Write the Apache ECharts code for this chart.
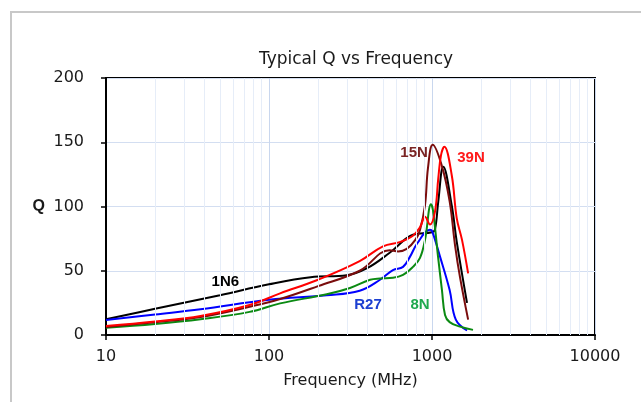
<!DOCTYPE html>
<html><head><meta charset="utf-8">
<script src="https://cdn.jsdelivr.net/npm/echarts@6/dist/echarts.min.js"></script>
<style>html,body{margin:0;padding:0;background:#fff}#c{width:641px;height:402px}</style>
</head><body><div id="c"></div>
<script>
// Frequency (MHz), Q pairs
const q1N6 = [[10,12.2],[20,20.4],[50,31],[100,39.5],[180,45],[300,46.5],[400,52],[550,64],[764,78],[1000,80],[1043,82],[1093,104],[1173,131],[1321,101],[1418,72.6],[1640,25]];
const q15N = [[10,6.3],[20,10],[38,14],[76,22],[117,28],[200,38],[360,50],[550,66],[620,65],[700,67],[790,74],[845,82],[906,101],[945,130],[1010,148],[1147,132],[1283,104],[1384,70],[1485,45],[1666,12]];
const q39N = [[10,7],[20,10.5],[38,14.8],[76,23.3],[117,32.4],[200,43],[360,57.5],[500,69],[640,72.5],[760,77],[845,84],[906,92],[972,86],[1043,96],[1093,122],[1136,140],[1190,146.5],[1321,124.5],[1418,91],[1528,74],[1666,48]];
const qR27 = [[10,11.7],[20,16],[38,20],[100,27.5],[226,31],[360,34.5],[480,43],[576,50.5],[664,53],[733,61],[809,71],[972,82],[1000,81],[1120,61],[1283,35],[1400,12],[1640,3.5]];
const q8N = [[10,5.7],[20,8.5],[38,12.2],[76,18],[117,24.6],[226,31.7],[314,36.6],[417,43],[480,44],[576,44.5],[664,46.7],[764,53],[844,60],[906,74],[986,101.7],[1014,97],[1089,61],[1151,35],[1202,15.6],[1283,10],[1485,6.5],[1785,4]];
const xTicks = [10,100,1000,10000];
const yTicks = [0,50,100,150,200];
const minorX = [20,30,40,50,60,70,80,90,200,300,400,500,600,700,800,900,2000,3000,4000,5000,6000,7000,8000,9000];

const FONT = 'DejaVu Sans, sans-serif';
const BFONT = 'Liberation Sans, Arial, sans-serif';
function lineSeries(name, data, color, labelAt, labelColor){
  return {
    name, type:'line', data, smooth:0.4, symbol:'none', z:3,
    lineStyle:{color, width:2},
    markPoint:{
      silent:true, symbol:'circle', symbolSize:0,
      data:[{coord:labelAt, value:name}],
      label:{show:true, position:'inside', formatter:name, color:labelColor,
        fontFamily:BFONT, fontSize:15, fontWeight:'bold'}
    }
  };
}
const chart = echarts.init(document.getElementById('c'), null, {renderer:'canvas'});
chart.setOption({
  animation:false,
  backgroundColor:'#fff',
  title:{text:'Typical Q vs Frequency', left:351, top:46, textAlign:'center',
    textStyle:{fontFamily:FONT, fontSize:17, fontWeight:'normal', color:'#1a1a1a'}},
  graphic:[{type:'rect', shape:{x:11, y:12, width:700, height:500}, silent:true,
    style:{fill:'none', stroke:'#c8c8c8', lineWidth:2}, z:-10}],
  grid:{left:106, top:78, right:46, bottom:67, show:true, borderColor:'#000', borderWidth:2, backgroundColor:'transparent'},
  xAxis:{type:'log', logBase:10, min:10, max:10000,
    name:'Frequency (MHz)', nameLocation:'middle', nameGap:38,
    nameTextStyle:{fontFamily:FONT, fontSize:16, color:'#1a1a1a'},
    axisLine:{lineStyle:{color:'#000', width:2}},
    axisTick:{show:true, inside:false, length:5, lineStyle:{color:'#000', width:1.5}},
    axisLabel:{fontFamily:FONT, fontSize:16, color:'#1a1a1a', margin:14,
      formatter:v=>String(Math.round(v))},
    splitLine:{show:true, lineStyle:{color:'#c9d7ee', width:1}}
  },
  yAxis:{type:'value', min:0, max:200, interval:50,
    name:'Q', nameLocation:'middle', nameRotate:0, nameGap:61,
    nameTextStyle:{fontFamily:BFONT, fontSize:16, fontWeight:'bold', color:'#1a1a1a'},
    axisLine:{show:true, lineStyle:{color:'#000', width:2}},
    axisTick:{show:true, inside:false, length:5, lineStyle:{color:'#000', width:1.5}},
    axisLabel:{fontFamily:FONT, fontSize:16, color:'#1a1a1a', margin:22},
    splitLine:{show:true, lineStyle:{color:'#d3def1', width:1}}
  },
  series:[
    {type:'line', data:[], z:1, silent:true,
      markLine:{silent:true, symbol:['none','none'], label:{show:false},
        lineStyle:{color:'#e6edf8', width:1, type:'solid'},
        data:minorX.map(v=>({xAxis:v}))}},
    lineSeries('1N6', q1N6, '#000000', [54,41], '#000000'),
    lineSeries('R27', qR27, '#0000ff', [405,23.3], '#1c3fd1'),
    lineSeries('8N', q8N, '#0b8a12', [844,23.3], '#1ea84e'),
    lineSeries('15N', q15N, '#7a0c0c', [776,141.6], '#7a2424'),
    lineSeries('39N', q39N, '#ff0000', [1734,137.7], '#ff1a1a')
  ]
});
</script></body></html>
